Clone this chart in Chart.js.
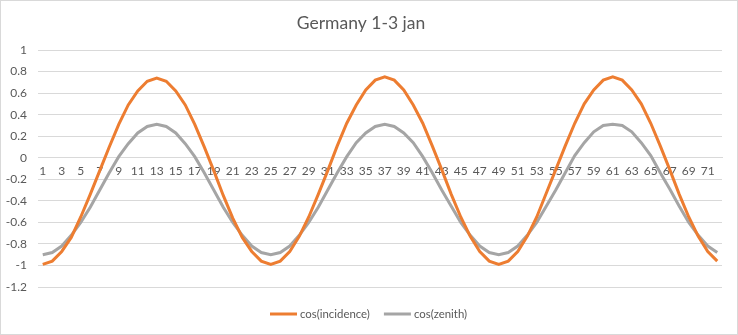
<!DOCTYPE html>
<html>
<head>
<meta charset="utf-8">
<script src="https://cdn.jsdelivr.net/npm/chart.js@4.4.1/dist/chart.umd.min.js"></script>
<style>
  html, body { margin: 0; padding: 0; background: #fff; }
  canvas { display: block; }
</style>
</head>
<body>
<canvas id="chart" width="738" height="335"></canvas>
<script>
// Hour index over the three days (1 .. 72)
const categories = [
  '1','2','3','4','5','6','7','8','9','10','11','12','13','14','15','16','17','18','19','20','21','22','23','24',
  '25','26','27','28','29','30','31','32','33','34','35','36','37','38','39','40','41','42','43','44','45','46','47','48',
  '49','50','51','52','53','54','55','56','57','58','59','60','61','62','63','64','65','66','67','68','69','70','71','72'
];

// cos of the angle of incidence, hourly
const cosIncidence = [
  -0.99,-0.96,-0.87,-0.74,-0.55,-0.34,-0.12, 0.10, 0.31, 0.49, 0.62, 0.71, 0.74, 0.71, 0.62, 0.49, 0.31, 0.10,-0.12,-0.35,-0.56,-0.74,-0.87,-0.96,
  -0.99,-0.96,-0.87,-0.73,-0.55,-0.34,-0.12, 0.11, 0.32, 0.49, 0.63, 0.72, 0.75, 0.72, 0.63, 0.49, 0.32, 0.11,-0.11,-0.34,-0.55,-0.73,-0.87,-0.96,
  -0.99,-0.96,-0.87,-0.73,-0.55,-0.33,-0.11, 0.11, 0.32, 0.50, 0.63, 0.72, 0.75, 0.72, 0.63, 0.50, 0.32, 0.11,-0.11,-0.34,-0.55,-0.73,-0.87,-0.96
];

// cos of the solar zenith angle, hourly
const cosZenith = [
  -0.90,-0.88,-0.82,-0.72,-0.60,-0.46,-0.30,-0.14, 0.01, 0.13, 0.23, 0.29, 0.31, 0.29, 0.23, 0.13, 0.01,-0.14,-0.30,-0.46,-0.60,-0.72,-0.82,-0.88,
  -0.90,-0.88,-0.82,-0.72,-0.60,-0.46,-0.30,-0.14, 0.01, 0.14, 0.23, 0.29, 0.31, 0.29, 0.23, 0.14, 0.01,-0.14,-0.30,-0.45,-0.60,-0.72,-0.82,-0.88,
  -0.90,-0.88,-0.82,-0.72,-0.60,-0.45,-0.30,-0.14, 0.02, 0.14, 0.24, 0.30, 0.31, 0.30, 0.24, 0.14, 0.02,-0.14,-0.29,-0.45,-0.60,-0.72,-0.82,-0.88
];

const seriesNames = ['cos(incidence)', 'cos(zenith)'];
const titleText = 'Germany 1-3 jan';

const FONT = "Lato, 'Liberation Sans', sans-serif";
const TEXT = '#595959';
const GRID = '#d9d9d9';

// thin frame round the whole chart
const framePlugin = {
  id: 'frame',
  afterDraw(chart) {
    const ctx = chart.ctx;
    ctx.save();
    ctx.strokeStyle = GRID;
    ctx.lineWidth = 1;
    ctx.strokeRect(0.5, 0.5, chart.width - 1, chart.height - 1);
    ctx.restore();
  }
};

// legend row under the plot: short line sample followed by the series name
const lineLegendPlugin = {
  id: 'lineLegend',
  afterDraw(chart) {
    const ctx = chart.ctx;
    const sample = 27, gapText = 3, gapItem = 14;
    const y = chart.chartArea.bottom + 27;
    ctx.save();
    ctx.font = '11.4px ' + FONT;
    ctx.textBaseline = 'middle';
    ctx.textAlign = 'left';
    const items = chart.data.datasets.map(ds => ({
      label: ds.label, color: ds.borderColor, w: ctx.measureText(ds.label).width
    }));
    const total = items.reduce((s, it) => s + sample + gapText + it.w, 0) + gapItem * (items.length - 1);
    let x = Math.round(chart.width / 2 - total / 2);
    items.forEach(it => {
      ctx.strokeStyle = it.color;
      ctx.lineWidth = 3;
      ctx.beginPath();
      ctx.moveTo(x, y);
      ctx.lineTo(x + sample, y);
      ctx.stroke();
      ctx.fillStyle = TEXT;
      ctx.fillText(it.label, x + sample + gapText, y);
      x += sample + gapText + it.w + gapItem;
    });
    ctx.restore();
  }
};

new Chart(document.getElementById('chart'), {
  type: 'line',
  data: {
    labels: categories,
    datasets: [
      {
        label: seriesNames[0],
        data: cosIncidence,
        borderColor: '#ed7d31',
        backgroundColor: '#ed7d31',
        borderWidth: 3,
        pointRadius: 0,
        tension: 0,
        fill: false
      },
      {
        label: seriesNames[1],
        data: cosZenith,
        borderColor: '#a5a5a5',
        backgroundColor: '#a5a5a5',
        borderWidth: 3,
        pointRadius: 0,
        tension: 0,
        fill: false
      }
    ]
  },
  options: {
    responsive: false,
    animation: false,
    devicePixelRatio: 1,
    layout: { padding: { left: 0, right: 16, top: 0, bottom: 48 } },
    plugins: {
      tooltip: { enabled: false },
      legend: { display: false },
      title: {
        display: true,
        text: titleText,
        color: TEXT,
        font: { family: FONT, size: 17.5, weight: 'normal' },
        padding: { top: 12.5, bottom: 16.5 }
      }
    },
    scales: {
      x: {
        type: 'category',
        position: { y: 0 },
        offset: true,
        grid: { display: false, drawTicks: false },
        border: { display: true, color: GRID, width: 1 },
        ticks: {
          autoSkip: false,
          maxRotation: 0,
          minRotation: 0,
          padding: 6,
          color: TEXT,
          font: { family: FONT, size: 12 },
          callback: function (value, index) {
            return index % 2 === 0 ? categories[index] : '';
          }
        }
      },
      y: {
        min: -1.2,
        max: 1,
        grid: { color: GRID, drawTicks: false },
        border: { display: false },
        ticks: {
          stepSize: 0.2,
          padding: 11,
          color: TEXT,
          font: { family: FONT, size: 12 },
          callback: function (value) {
            return String(Math.round(value * 10) / 10);
          }
        },
        afterFit: function (scale) { scale.width = 38; }
      }
    }
  },
  plugins: [framePlugin, lineLegendPlugin]
});
</script>
</body>
</html>
